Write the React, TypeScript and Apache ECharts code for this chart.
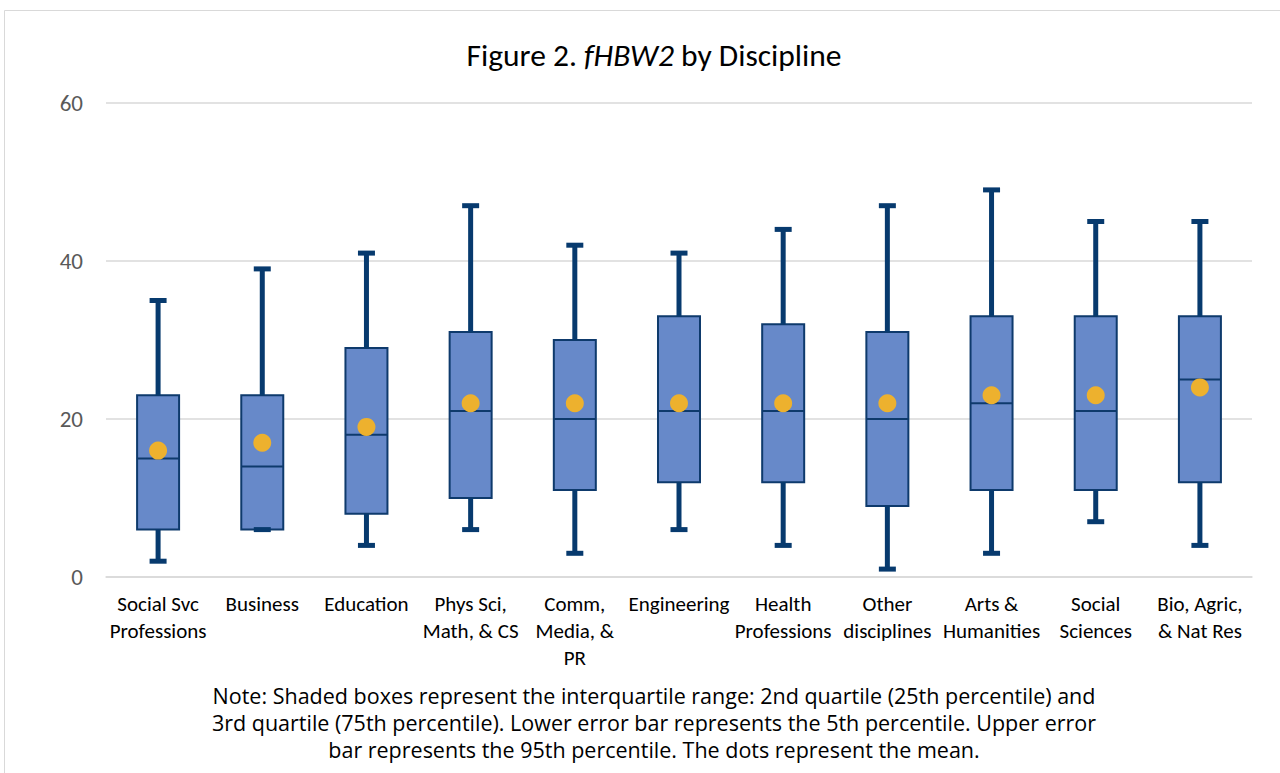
import React, { useEffect, useRef } from "react";
import * as echarts from "echarts";

const categories = [
  "Social Svc\nProfessions",
  "Business",
  "Education",
  "Phys Sci,\nMath, & CS",
  "Comm,\nMedia, &\nPR",
  "Engineering",
  "Health\nProfessions",
  "Other\ndisciplines",
  "Arts &\nHumanities",
  "Social\nSciences",
  "Bio, Agric,\n& Nat Res",
];
const p5 = [2, 6, 4, 6, 3, 6, 4, 1, 3, 7, 4];
const q1 = [6, 6, 8, 10, 11, 12, 12, 9, 11, 11, 12];
const median = [15, 14, 18, 21, 20, 21, 21, 20, 22, 21, 25];
const q3 = [23, 23, 29, 31, 30, 33, 32, 31, 33, 33, 33];
const p95 = [35, 39, 41, 47, 42, 41, 44, 47, 49, 45, 45];
const mean = [16, 17, 19, 22, 22, 22, 22, 22, 23, 23, 24];
const yTicks = { min: 0, max: 60, interval: 20 };

const titleText = "Figure 2. ";
const titleItalic = "fHBW2";
const titleRest = " by Discipline";
const noteLines = [
  "Note: Shaded boxes represent the interquartile range: 2nd quartile (25th percentile) and",
  "3rd quartile (75th percentile). Lower error bar represents the 5th percentile. Upper error",
  "bar represents the 95th percentile. The dots represent the mean.",
];

const FONT = "Carlito, Calibri, 'Open Sans', sans-serif";
const NOTE_FONT = "'Open Sans', Carlito, sans-serif";
const DARK = "#073A6E";

export default function App() {
  const ref = useRef<HTMLDivElement>(null);
  useEffect(() => {
    document.body.style.margin = "0";
    const chart = echarts.init(ref.current!, null, { renderer: "svg" });
    const boxData = categories.map((_, i) => [i, p5[i], q1[i], median[i], q3[i], p95[i]]);
    chart.setOption({
      animation: false,
      textStyle: { fontFamily: FONT },
      grid: { left: 106, right: 28, top: 103, bottom: 196, containLabel: false },
      xAxis: {
        type: "category",
        data: categories,
        axisLine: { lineStyle: { color: "#d9d9d9", width: 1.5 } },
        axisTick: { show: false },
        axisLabel: {
          interval: 0,
          color: "#000",
          fontSize: 21,
          lineHeight: 27,
          fontFamily: FONT,
          margin: 13,
        },
      },
      yAxis: {
        type: "value",
        min: yTicks.min,
        max: yTicks.max,
        interval: yTicks.interval,
        axisLine: { show: false },
        axisTick: { show: false },
        splitLine: { lineStyle: { color: "#d9d9d9", width: 1.5 } },
        axisLabel: { color: "#595959", fontSize: 23, fontFamily: FONT, margin: 23 },
      },
      graphic: [
        {
          type: "rect",
          shape: { x: 4.5, y: 10.5, width: 1290, height: 800 },
          style: { fill: "none", stroke: "#d9d9d9", lineWidth: 1 },
          silent: true,
        },
        {
          type: "text",
          x: 654,
          y: 55,
          style: {
            text: `{a|${titleText}}{b|${titleItalic}}{a|${titleRest}}`,
            align: "center",
            verticalAlign: "middle",
            rich: {
              a: { fontSize: 31.5, fontFamily: FONT, fill: "#000" },
              b: { fontSize: 31.5, fontFamily: FONT, fontStyle: "italic", fill: "#000" },
            },
          },
        },
        {
          type: "text",
          x: 654,
          y: 722,
          style: {
            text: noteLines.join("\n"),
            align: "center",
            verticalAlign: "middle",
            fontSize: 21.5,
            lineHeight: 27,
            fontFamily: NOTE_FONT,
            fill: "#000",
          },
        },
      ],
      series: [
        {
          type: "custom",
          data: boxData,
          encode: { x: 0, y: [1, 2, 3, 4, 5] },
          renderItem: (params: any, api: any) => {
            const i = api.value(0);
            const x = api.coord([i, 0])[0];
            const y5 = api.coord([i, api.value(1)])[1];
            const yq1 = api.coord([i, api.value(2)])[1];
            const ym = api.coord([i, api.value(3)])[1];
            const yq3 = api.coord([i, api.value(4)])[1];
            const y95 = api.coord([i, api.value(5)])[1];
            const bw = 42;
            const cw = 17;
            const ws = { stroke: DARK, lineWidth: 5 };
            return {
              type: "group",
              children: [
                { type: "rect", shape: { x: x - bw / 2, y: yq3, width: bw, height: yq1 - yq3 }, style: { fill: "#6789C9", stroke: "#0E3A6C", lineWidth: 2 } },
                { type: "line", shape: { x1: x - bw / 2, y1: ym, x2: x + bw / 2, y2: ym }, style: { stroke: "#0E3A6C", lineWidth: 2 } },
                { type: "line", shape: { x1: x, y1: yq3, x2: x, y2: y95 }, style: ws },
                { type: "line", shape: { x1: x, y1: yq1, x2: x, y2: y5 }, style: ws },
                { type: "line", shape: { x1: x - cw / 2, y1: y95, x2: x + cw / 2, y2: y95 }, style: ws },
                { type: "line", shape: { x1: x - cw / 2, y1: y5, x2: x + cw / 2, y2: y5 }, style: ws },
              ],
            };
          },
          z: 2,
        },
        {
          type: "scatter",
          data: mean,
          symbol: "circle",
          symbolSize: 18,
          itemStyle: { color: "#EDB12E", opacity: 1 },
          z: 3,
        },
      ],
    });
    return () => chart.dispose();
  }, []);
  return <div ref={ref} style={{ width: 1280, height: 773 }} />;
}
